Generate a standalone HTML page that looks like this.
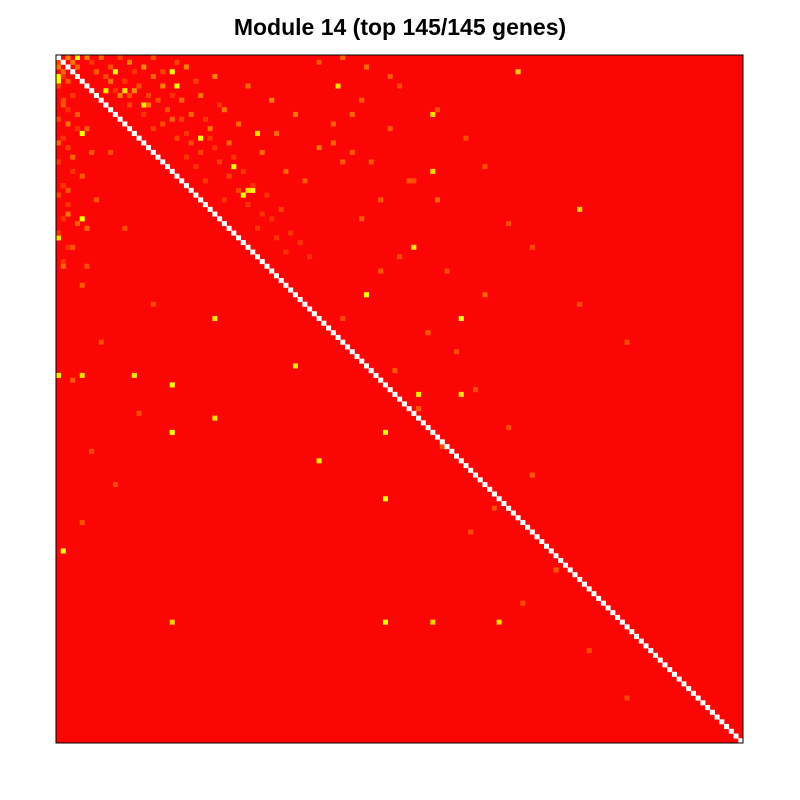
<!DOCTYPE html>
<html><head><meta charset="utf-8">
<style>
html,body{margin:0;padding:0;background:#fff;width:800px;height:800px;overflow:hidden}
#title{position:absolute;left:0;top:14px;width:800px;text-align:center;font-family:"Liberation Sans",sans-serif;font-weight:bold;font-size:23px;color:#000}
svg{position:absolute;left:0;top:0}
</style></head><body>
<div id="title">Module 14 (top 145/145 genes)</div>
<svg id="chart" width="800" height="800"></svg>
<script>
const nGenes = 145;
// highlighted cells: row, column, value (0 = red, 1 = yellow)
const cellRows = [0,3,3,6,7,7,10,16,17,16,29,28,23,4,5,34,38,
 50,55,69,79,79,93,119,104,65,71,71,85,40,12,24,3,32,55,67,67,67,38,16,28,6,119,119,119,76,
 0,0,0,1,1,2,2,2,3,4,4,5,6,6,7,8,8,9,9,10,11,12,12,13,14,15,16,18,19,20,22,24,26,
 2,3,5,8,10,12,14,15,18,20,21,25,27,30,33,35,36,40,44,48,
 12,15,18,22,26,30,34,42,45,50,55,58,62,66,70,74,78,82,88,95,100,108,115,125,135,
 0,1,2,4,6,9,11,14,17,20,23,26,30,35,40,45,52,60,
 3,8,12,20,28,36,44,52,60,68,75,83,90,98,
 0,0,1,1,2,3,3,4,5,5,6,7,8,8,9,10,10,11,12,13,13,14,15,16,17,17,18,19,20,21,21,22,23,24,25,26,27,28,29,30,31,32,33,34,36,37,38,39,41,42,
 1,2,4,6,8,9,11,13,15,17,19,22,24,27,29,31,34,37,40,43];
const cellCols = [4,12,24,25,10,14,18,5,30,42,39,41,37,0,0,5,0,
 65,85,24,24,69,69,69,1,50,76,85,55,75,79,79,97,110,33,16,0,5,0,42,40,59,93,79,24,33,
 2,6,9,3,15,4,18,27,8,20,33,11,22,40,16,13,30,26,45,19,35,28,50,24,38,32,46,36,55,43,60,48,52,
 0,1,2,3,1,4,2,6,0,7,3,5,1,8,2,4,6,3,1,5,
 62,70,58,66,74,80,64,72,68,90,60,78,84,71,88,76,95,81,100,92,87,105,98,112,120,
 60,55,65,70,72,64,80,58,86,62,90,75,68,95,100,82,110,120,
 8,15,4,11,2,14,6,20,9,3,17,7,12,5,
 13,20,7,25,11,16,22,10,14,29,17,12,19,24,21,15,34,23,18,26,31,22,20,27,25,32,28,33,30,27,37,34,29,39,36,31,41,38,44,35,40,47,43,45,42,49,46,51,48,53,
 0,2,1,0,3,1,2,0,4,1,2,0,3,1,0,2,1,0,2,1];
const cellVals = [1,1,1,1,0.9,0.9,0.9,1,1,0.9,1,1,1,1,0.95,1,0.9,
 1,1,1,1,1,1,1,1,0.9,0.9,0.9,0.9,0.9,0.85,0.85,0.8,0.8,0.9,0.9,0.9,0.85,0.85,0.85,0.85,0.85,0.85,0.8,0.8,0.85,
 0.5,0.5,0.4,0.45,0.5,0.4,0.55,0.5,0.45,0.4,0.5,0.45,0.5,0.4,0.55,0.5,0.45,0.4,0.5,0.45,0.45,0.4,0.45,0.4,0.4,0.45,0.4,0.4,0.45,0.4,0.35,0.4,0.35,
 0.45,0.4,0.35,0.4,0.35,0.4,0.45,0.35,0.4,0.35,0.4,0.35,0.4,0.35,0.45,0.35,0.4,0.35,0.4,0.35,
 0.4,0.35,0.4,0.35,0.35,0.4,0.35,0.3,0.35,0.4,0.3,0.35,0.3,0.35,0.3,0.35,0.3,0.3,0.35,0.3,0.3,0.35,0.3,0.3,0.3,
 0.4,0.35,0.4,0.35,0.3,0.35,0.3,0.4,0.3,0.35,0.3,0.3,0.35,0.3,0.3,0.3,0.3,0.3,
 0.35,0.3,0.35,0.3,0.35,0.3,0.3,0.3,0.3,0.35,0.3,0.3,0.3,0.3,
 0.25,0.3,0.2,0.25,0.3,0.2,0.25,0.3,0.2,0.25,0.3,0.2,0.25,0.2,0.3,0.25,0.2,0.3,0.2,0.25,0.2,0.3,0.25,0.2,0.25,0.2,0.3,0.2,0.25,0.2,0.2,0.25,0.2,0.2,0.25,0.2,0.2,0.25,0.2,0.2,0.2,0.25,0.2,0.2,0.2,0.2,0.2,0.2,0.2,0.2,
 0.25,0.3,0.2,0.25,0.2,0.3,0.2,0.25,0.2,0.2,0.25,0.2,0.2,0.2,0.25,0.2,0.2,0.2,0.2,0.2];

const NS = "http://www.w3.org/2000/svg";
const svg = document.getElementById("chart");
const x0 = 56, y0 = 55, x1 = 743, y1 = 743;
const cw = (x1 - x0) / nGenes, ch = (y1 - y0) / nGenes;
function xPos(c){ return x0 + c * cw; }
function yPos(r){ return y0 + r * ch; }
function color(v){ return "rgb(255," + Math.round(255 * v) + ",0)"; }

const bg = document.createElementNS(NS, "rect");
bg.setAttribute("x", x0); bg.setAttribute("y", y0);
bg.setAttribute("width", x1 - x0); bg.setAttribute("height", y1 - y0);
bg.setAttribute("fill", "#fb0505");


svg.appendChild(bg);

for (let i = 0; i < cellRows.length; i++) {
  const r = document.createElementNS(NS, "rect");
  r.setAttribute("x", xPos(cellCols[i]).toFixed(2));
  r.setAttribute("y", yPos(cellRows[i]).toFixed(2));
  r.setAttribute("width", (cw + 0.3).toFixed(2));
  r.setAttribute("height", (ch + 0.3).toFixed(2));
  r.setAttribute("fill", color(cellVals[i]));
  
  
  svg.appendChild(r);
}
for (let i = 0; i < nGenes; i++) {
  const d = document.createElementNS(NS, "rect");
  d.setAttribute("x", xPos(i).toFixed(2));
  d.setAttribute("y", yPos(i).toFixed(2));
  d.setAttribute("width", (cw + 0.3).toFixed(2));
  d.setAttribute("height", (ch + 0.3).toFixed(2));
  d.setAttribute("fill", "#ffffff");
  
  
  svg.appendChild(d);
}
const frame = document.createElementNS(NS, "rect");
frame.setAttribute("x", x0); frame.setAttribute("y", y0);
frame.setAttribute("width", x1 - x0); frame.setAttribute("height", y1 - y0);
frame.setAttribute("fill", "none"); frame.setAttribute("stroke", "#000"); frame.setAttribute("stroke-width", "1");


svg.appendChild(frame);
</script>
</body></html>
